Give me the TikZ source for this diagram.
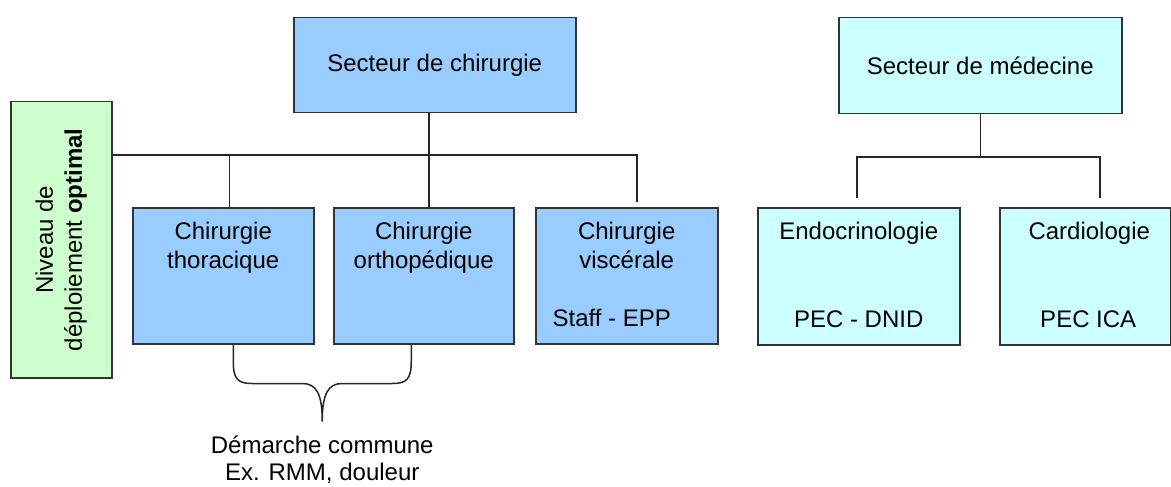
\documentclass[tikz,border=0pt]{standalone}
\usepackage{fontspec}
\setmainfont{Liberation Sans}
\usetikzlibrary{positioning}
\definecolor{chirblue}{HTML}{99CCFF}
\definecolor{medcyan}{HTML}{CCFFFF}
\definecolor{levelgreen}{HTML}{CCFFCC}

\begin{document}
\begin{tikzpicture}[x=1pt,y=-1pt,
 every node/.style={font=\fontsize{24}{29}\selectfont,inner sep=0pt},
 box/.style={draw=black!80,line width=1.5pt,anchor=north west},
 line/.style={line width=1.5pt,draw=black!85}]
\useasboundingbox (0,0) rectangle (1171,487);
% secteurs
\node[box,fill=chirblue,minimum width=282pt,minimum height=95pt] (chir) at (293,17) {\raisebox{-5pt}{Secteur de chirurgie}};
\node[box,fill=medcyan,minimum width=283pt,minimum height=96pt] (med) at (838,17) {\raisebox{-4pt}{Secteur de médecine}};
\node[box,fill=levelgreen,minimum width=101pt,minimum height=276pt] (niveau) at (10,101) {};
\node[rotate=90,align=center] at (niveau.center) {Niveau de\\déploiement \textbf{optimal}};
% services
\node[box,fill=chirblue,minimum width=181pt,minimum height=136pt] (thor) at (132,207) {};
\node[box,fill=chirblue,minimum width=180pt,minimum height=136pt] (ortho) at (333,207) {};
\node[box,fill=chirblue,minimum width=182pt,minimum height=136pt] (visc) at (535,207) {};
\node[box,fill=medcyan,minimum width=202pt,minimum height=137pt] (endo) at (757,207) {};
\node[box,fill=medcyan,minimum width=171pt,minimum height=137pt] (cardio) at (999,207) {};
\node[below=15pt of thor.north,align=center] (thortxt) {Chirurgie\\thoracique};
\node[below=15pt of ortho.north,align=center] (orthotxt) {Chirurgie\\orthopédique};
\node[below=15pt of visc.north,align=center] (visctxt) {Chirurgie\\viscérale};
\node[above=18pt of visc.south,xshift=-15pt] (staff) {Staff - EPP};
\node[below=15pt of endo.north] (endotxt) {Endocrinologie};
\node[above=18pt of endo.south] (dnid) {PEC - DNID};
\node[below=15pt of cardio.north,xshift=4pt] (cardiotxt) {Cardiologie};
\node[above=18pt of cardio.south,xshift=3pt] (ica) {PEC ICA};
% liaisons
\coordinate (busR) at (637,155);
\coordinate (medL) at (857,157);
\coordinate (medR) at (1100,157);
\draw[line,shorten >=5pt] (niveau.east |- busR) -- (busR) -- (busR |- visc.north);
\draw[line] ([xshift=-6pt]chir.south) -- ([xshift=-6pt]chir.south |- ortho.north);
\draw[line] ([xshift=6pt]thor.north) -- ([xshift=6pt]thor.north |- busR);
\draw[line] (med.south) -- (med.south |- medL);
\draw[line,shorten <=9pt,shorten >=9pt] (medL |- endo.north) -- (medL) -- (medR) -- (medR |- cardio.north);
% accolade
\draw[line] ([xshift=10pt]thor.south) -- ++(0,17) .. controls +(0,18) and +(-14,0) .. ++(19,22)
 -- ++(50,0) .. controls +(14,0) and +(0,-28) .. ++(20,38) coordinate (tip)
 .. controls +(0,-28) and +(-14,0) .. ++(20,-38) -- ++(50,0)
 .. controls +(14,0) and +(0,18) .. ++(19,-22) -- ++(0,-17);
\node[below=14pt of tip,align=center,font=\fontsize{24}{27}\selectfont] (demarche) {Démarche commune\\Ex. RMM, douleur};
\end{tikzpicture}
\end{document}
